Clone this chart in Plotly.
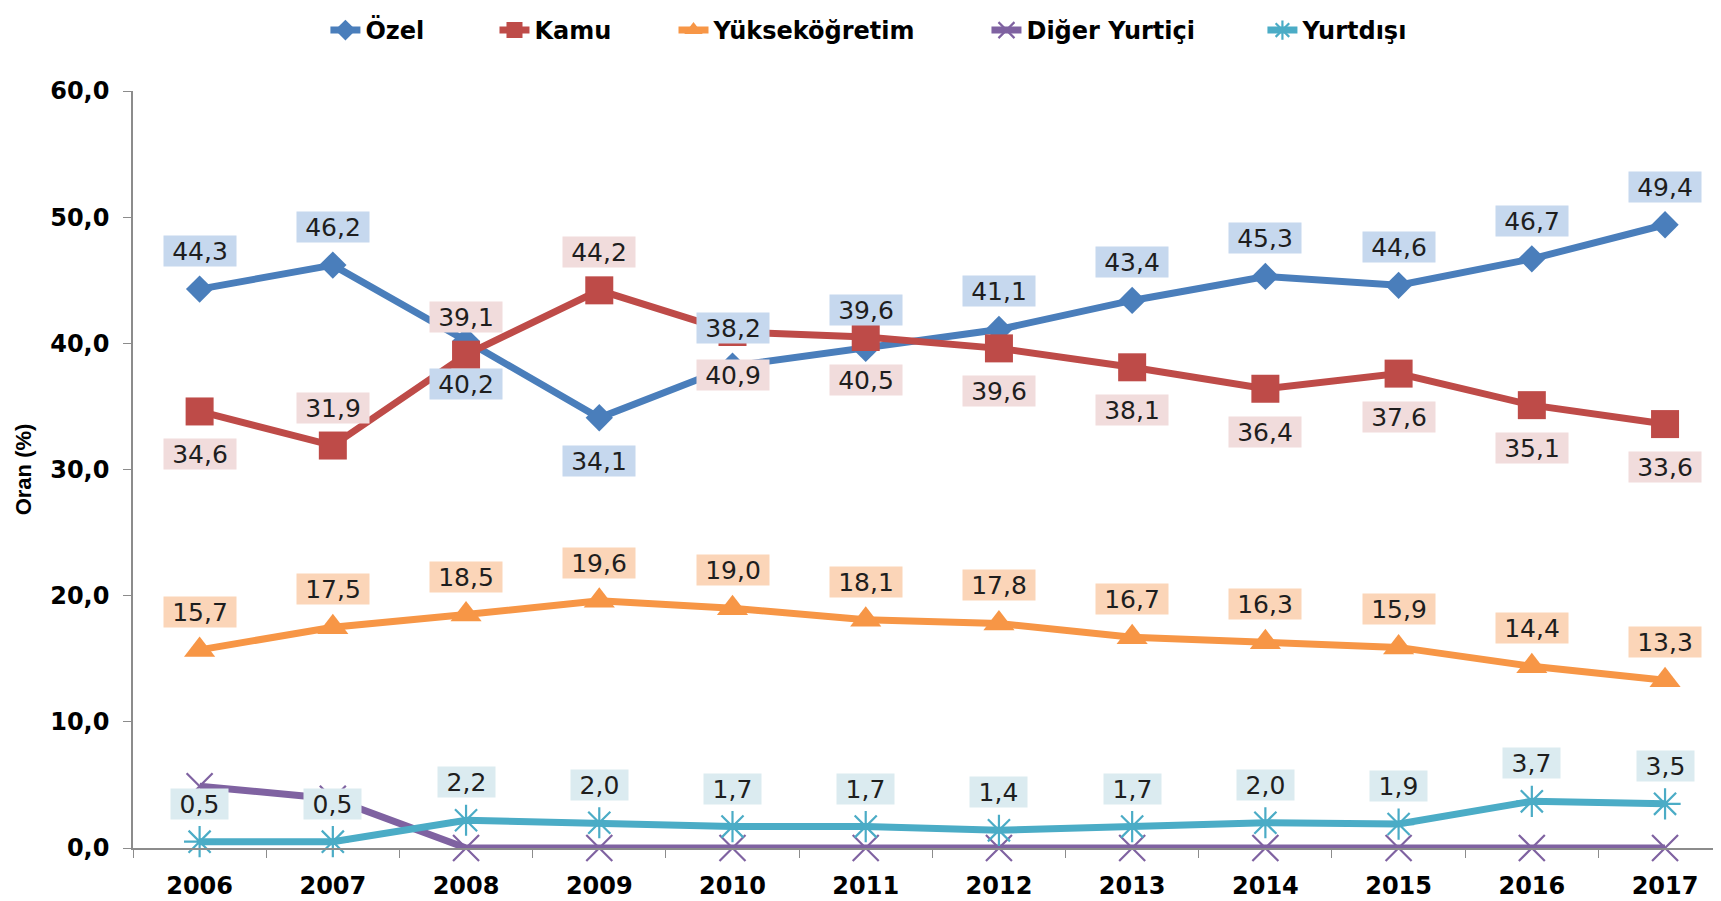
import plotly.graph_objects as go

years = ["2006", "2007", "2008", "2009", "2010", "2011", "2012", "2013", "2014", "2015", "2016", "2017"]
ozel = [44.3, 46.2, 40.2, 34.1, 38.2, 39.6, 41.1, 43.4, 45.3, 44.6, 46.7, 49.4]
kamu = [34.6, 31.9, 39.1, 44.2, 40.9, 40.5, 39.6, 38.1, 36.4, 37.6, 35.1, 33.6]
yuksek = [15.7, 17.5, 18.5, 19.6, 19.0, 18.1, 17.8, 16.7, 16.3, 15.9, 14.4, 13.3]
diger = [4.9, 3.9, 0.0, 0.0, 0.0, 0.0, 0.0, 0.0, 0.0, 0.0, 0.0, 0.0]
yurtdisi = [0.5, 0.5, 2.2, 2.0, 1.7, 1.7, 1.4, 1.7, 2.0, 1.9, 3.7, 3.5]

y_ticks = [0, 10, 20, 30, 40, 50, 60]

# label placement (style)
ozel_side = ["up", "up", "down", "down", "up", "up", "up", "up", "up", "up", "up", "up"]
kamu_side = ["down", "up", "up", "up", "down", "down", "down", "down", "down", "down", "down", "down"]
yuksek_side = ["up"] * 12
yurtdisi_side = ["up"] * 12

# legend entry left positions (fraction of figure width, style)
legend_x = [0.1853, 0.2840, 0.3885, 0.5712, 0.7323]

C_OZEL = "#4a7ebb"
C_KAMU = "#be4b48"
C_YUK = "#f79646"
C_DIG = "#7f62a1"
C_YUR = "#4bacc6"

FONT = "DejaVu Sans, sans-serif"
FONT_T = "Liberation Sans, Arial, sans-serif"

fig = go.Figure()

fig.add_trace(go.Scatter(x=years, y=ozel, name="Özel", mode="lines+markers", legend="legend",
                         line=dict(color=C_OZEL, width=7),
                         marker=dict(symbol="diamond", size=21, color=C_OZEL),
                         cliponaxis=False))
fig.add_trace(go.Scatter(x=years, y=kamu, name="Kamu", mode="lines+markers", legend="legend2",
                         line=dict(color=C_KAMU, width=7),
                         marker=dict(symbol="square", size=28, color=C_KAMU),
                         cliponaxis=False))
fig.add_trace(go.Scatter(x=years, y=yuksek, name="Yükseköğretim", mode="lines+markers", legend="legend3",
                         line=dict(color=C_YUK, width=7),
                         marker=dict(symbol="triangle-up", size=27, color=C_YUK),
                         cliponaxis=False))
fig.add_trace(go.Scatter(x=years, y=diger, name="Diğer Yurtiçi", mode="lines+markers", legend="legend4",
                         line=dict(color=C_DIG, width=7),
                         marker=dict(symbol="x-thin-open", size=26, color=C_DIG,
                                     line=dict(color=C_DIG, width=2.2)),
                         cliponaxis=False))
fig.add_trace(go.Scatter(x=years, y=yurtdisi, name="Yurtdışı", mode="lines+markers", legend="legend5",
                         line=dict(color=C_YUR, width=7),
                         marker=dict(symbol="asterisk-open", size=26, color=C_YUR,
                                     line=dict(color=C_YUR, width=2.2)),
                         cliponaxis=False))


def fmt(v):
    return f"{v:.1f}".replace(".", ",")


def add_labels(values, sides, bg):
    for i, (v, s) in enumerate(zip(values, sides)):
        t = fmt(v)
        fig.add_annotation(x=i, y=v, xref="x", yref="y", text=t, showarrow=False,
                           yshift=38 if s == "up" else -43,
                           bgcolor=bg, borderpad=1,
                           width=15 * len(t) + 10, height=28, valign="middle",
                           font=dict(family=FONT, size=25, color="#1e1e1e"))


add_labels(ozel, ozel_side, "#c6d8ee")
add_labels(kamu, kamu_side, "#f1dcdc")
add_labels(yuksek, yuksek_side, "#fbd5b8")
add_labels(yurtdisi, yurtdisi_side, "#dbebf0")

legend_common = dict(orientation="h", xref="container", yref="container",
                     xanchor="left", y=1.0, yanchor="top",
                     font=dict(family=FONT, size=24, color="#000000", weight="bold"),
                     itemwidth=30, bgcolor="rgba(0,0,0,0)")

fig.update_layout(
    width=1713, height=893,
    paper_bgcolor="white", plot_bgcolor="white",
    margin=dict(l=125, r=0, t=83, b=53, autoexpand=False),
    separators=", ",
    font=dict(family=FONT, color="#000000"),
    showlegend=True,
    legend=dict(x=legend_x[0], **legend_common),
    legend2=dict(x=legend_x[1], **legend_common),
    legend3=dict(x=legend_x[2], **legend_common),
    legend4=dict(x=legend_x[3], **legend_common),
    legend5=dict(x=legend_x[4], **legend_common),
    xaxis=dict(type="category", range=[-0.5, 11.42], automargin=False,
               showline=True, linecolor="#8c8c8c", linewidth=1.5,
               ticks="outside", tickson="boundaries", ticklen=8, tickcolor="#8c8c8c",
               tickfont=dict(family=FONT, size=24, color="#000000", weight="bold"),
               ticklabelstandoff=15,
               showgrid=False, zeroline=False),
    yaxis=dict(range=[0, 60], tickvals=y_ticks, tickformat=".1f", automargin=False,
               showline=True, linecolor="#8c8c8c", linewidth=1.5,
               ticks="outside", ticklen=8, tickcolor="#8c8c8c",
               tickfont=dict(family=FONT, size=24, color="#000000", weight="bold"),
               ticklabelstandoff=9,
               showgrid=False, zeroline=False,
               title=dict(text="Oran (%)", standoff=13,
                          font=dict(family=FONT_T, size=22, color="#000000", weight="bold"))),
)

fig.write_html("out.html")
